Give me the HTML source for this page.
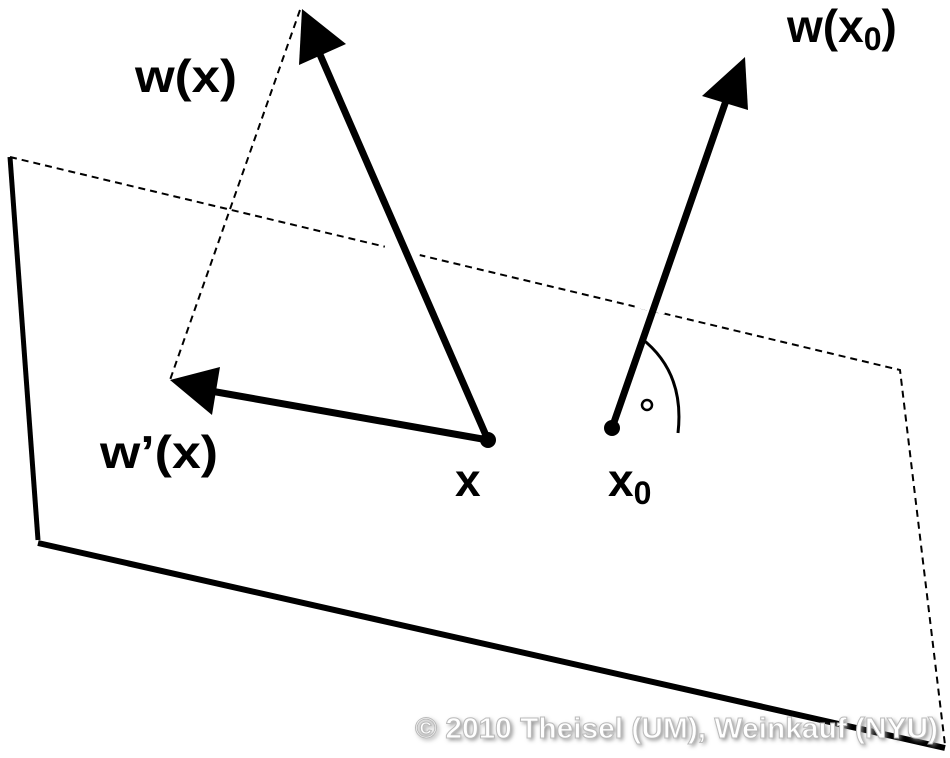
<!DOCTYPE html>
<html><head><style>
html,body{margin:0;padding:0;background:#fff;}
svg{display:block;}
text{font-family:"Liberation Sans",sans-serif;font-weight:bold;}
</style></head><body>
<svg width="950" height="758" viewBox="0 0 950 758">
<defs><filter id="sh" x="-5%" y="-30%" width="110%" height="160%"><feGaussianBlur stdDeviation="2"/></filter></defs>
<g stroke="#000" fill="none">
<line x1="10" y1="157" x2="38" y2="540" stroke-width="5"/>
<line x1="38" y1="543" x2="945" y2="748" stroke-width="6"/>
<polyline points="10,157 900,370 945,745" stroke-width="2" stroke-dasharray="7,5"/>
<line x1="385" y1="246" x2="420" y2="254" stroke="#fff" stroke-width="5"/>
<line x1="635" y1="305" x2="665" y2="312" stroke="#fff" stroke-width="5"/>
<line x1="300" y1="10" x2="170" y2="380" stroke-width="2" stroke-dasharray="7,5"/>
<line x1="488" y1="440" x2="318" y2="50" stroke-width="7"/>
<line x1="488" y1="440" x2="205" y2="390" stroke-width="7"/>
<line x1="612" y1="428" x2="728" y2="95" stroke-width="7"/>
<path d="M641,338 Q685,372 678,433" stroke-width="3"/>
<circle cx="647" cy="405" r="5" stroke-width="2.5"/>
</g>
<g fill="#000">
<polygon points="302,9 346,44 299,65"/>
<polygon points="170,380 220,367 212,415"/>
<polygon points="745,57 702,96 748,110"/>
<circle cx="488" cy="440" r="8"/>
<circle cx="612" cy="428" r="8"/>
<text x="135" y="92" font-size="46" textLength="102" lengthAdjust="spacingAndGlyphs">w(x)</text>
<text x="787" y="42" font-size="46">w(x<tspan font-size="32" dy="8">0</tspan><tspan dy="-8">)</tspan></text>
<text x="100" y="468" font-size="46" textLength="118" lengthAdjust="spacingAndGlyphs">w’(x)</text>
<text x="455" y="496" font-size="46">x</text>
<text x="608" y="496" font-size="46">x<tspan font-size="32" dy="8">0</tspan></text>
</g>
<text x="417" y="740" font-size="29" fill="#888" filter="url(#sh)" textLength="523" lengthAdjust="spacingAndGlyphs">© 2010 Theisel (UM), Weinkauf (NYU)</text>
<text x="415" y="738" font-size="29" fill="#fff" stroke="#bbb" stroke-width="1" textLength="523" lengthAdjust="spacingAndGlyphs">© 2010 Theisel (UM), Weinkauf (NYU)</text>
</svg>
</body></html>
